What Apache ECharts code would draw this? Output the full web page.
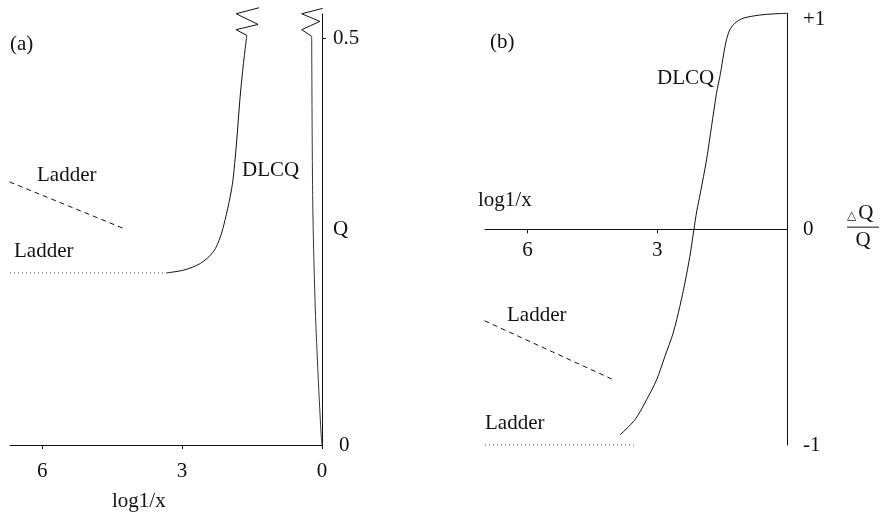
<!DOCTYPE html>
<html>
<head>
<meta charset="utf-8">
<script src="https://cdn.jsdelivr.net/npm/echarts@6/dist/echarts.min.js"></script>
<style>html,body{margin:0;padding:0;background:#fff}#c{width:883px;height:521px}</style>
</head>
<body>
<div id="c"></div>
<script>
// ---------- data (x = log1/x, y = value) ----------
// Panel (a): Q
const aXTicks = [0, 3, 6];
const aYTicks = [0, 0.5];
const aLadderDotted = [[6.69, 0.2117], [3.33, 0.2117]];
const aLadderDashed = [[6.70, 0.3235], [4.20, 0.265]];
const aDlcq = [[3.33, 0.2117], [2.97, 0.215], [2.61, 0.2232], [2.33, 0.2375], [2.18, 0.2559], [2.08, 0.2764], [1.97, 0.305], [1.91, 0.3256], [1.84, 0.3665], [1.756, 0.4279], [1.685, 0.4689], [1.612, 0.5037]];
const aBreak1 = [[1.612, 0.5037], [1.842, 0.5107], [1.37, 0.5172], [1.842, 0.5303], [1.349, 0.5377]];
const aSteep = [[0, 0], [0.021, 0.0147], [0.092, 0.0962], [0.15, 0.178], [0.199, 0.301], [0.221, 0.5025]];
const aBreak2 = [[0.221, 0.5025], [0.435, 0.5107], [0.043, 0.5209], [0.435, 0.5303], [-0.015, 0.5369]];
// Panel (b): ΔQ/Q
const bXTicks = [3, 6];
const bYTicks = [-1, 0, 1];
const bLadderDotted = [[6.98, -1.0], [3.54, -1.0]];
const bLadderDashed = [[6.99, -0.4245], [3.976, -0.701]];
const bDlcq = [[0, 1.0], [0.323, 0.997], [0.63, 0.992], [1.015, 0.977], [1.207, 0.954], [1.322, 0.923], [1.399, 0.877], [1.461, 0.815], [1.537, 0.722], [1.629, 0.63], [1.745, 0.475], [1.86, 0.321], [2.003, 0.167], [2.084, 0.085], [2.153, -0.003], [2.246, -0.127], [2.361, -0.25], [2.477, -0.358], [2.631, -0.481], [2.823, -0.59], [3.014, -0.698], [3.245, -0.79], [3.515, -0.883], [3.861, -0.953]];

const FF = "'Liberation Serif','Times New Roman',serif";
const FS = 21;
const INK = '#111';

const chart = echarts.init(document.getElementById('c'), null, {renderer: 'canvas'});

function line(name, data, xi, style, smooth) {
  return {
    type: 'line', name, data, xAxisIndex: xi, yAxisIndex: xi,
    showSymbol: false, symbol: 'none', clip: false, smooth: smooth || false,
    lineStyle: Object.assign({color: INK, width: 1}, style),
    silent: true, animation: false
  };
}

function txt(text, x, y) {
  return {type: 'text', x, y, silent: true,
    style: {text, fontSize: FS, fontFamily: FF, fill: INK, align: 'left', verticalAlign: 'middle'}};
}

const axisLineStyle = {color: INK, width: 1};

chart.setOption({
  animation: false,
  backgroundColor: '#fff',
  grid: [
    {left: 10, right: 561, top: 14, bottom: 76},
    {left: 485, right: 96, top: 13.3, bottom: 76}
  ],
  xAxis: [
    {
      gridIndex: 0, type: 'value', inverse: true, min: 0, max: 6.69,
      splitLine: {show: false},
      axisLine: {show: true, onZero: false, lineStyle: axisLineStyle},
      axisTick: {show: true, customValues: aXTicks, length: 4, lineStyle: axisLineStyle},
      axisLabel: {show: true, customValues: aXTicks, margin: 16, fontSize: FS, fontFamily: FF, color: INK}
    },
    {
      gridIndex: 1, type: 'value', inverse: true, min: 0, max: 6.98,
      position: 'bottom', offset: -215.7,
      splitLine: {show: false},
      axisLine: {show: true, onZero: false, lineStyle: axisLineStyle},
      axisTick: {show: true, customValues: bXTicks, length: 4, lineStyle: axisLineStyle},
      axisLabel: {show: true, customValues: bXTicks, margin: 11, fontSize: FS, fontFamily: FF, color: INK}
    }
  ],
  yAxis: [
    {
      gridIndex: 0, type: 'value', position: 'right', min: 0, max: 0.53,
      splitLine: {show: false},
      axisLine: {show: true, onZero: false, lineStyle: axisLineStyle},
      axisTick: {show: true, customValues: [0.5], length: 4, lineStyle: axisLineStyle},
      axisLabel: {
        show: true, customValues: aYTicks, margin: 11, fontSize: FS, fontFamily: FF, color: INK,
        formatter: v => v === 0 ? '{z|0}' : String(v),
        rich: {z: {padding: [0, 0, 0, 6], fontSize: FS, fontFamily: FF, color: INK}}
      },
      name: 'Q', nameLocation: 'middle', nameRotate: 0, nameGap: 11, nameMoveOverlap: false,
      nameTextStyle: {fontSize: FS, fontFamily: FF, color: INK}
    },
    {
      gridIndex: 1, type: 'value', position: 'right', min: -1, max: 1,
      splitLine: {show: false},
      axisLine: {show: true, onZero: false, lineStyle: axisLineStyle},
      axisTick: {show: false},
      axisLabel: {
        show: true, customValues: bYTicks, margin: 16, fontSize: FS, fontFamily: FF, color: INK,
        formatter: v => v === 1 ? '{p|+1}' : String(v),
        rich: {p: {padding: [12, 0, 0, 0], fontSize: FS, fontFamily: FF, color: INK}}
      },
      name: '{t|△}{n|Q}\n{b| }\n{d|Q}', nameLocation: 'middle', nameRotate: 0, nameGap: 60, nameMoveOverlap: false,
      nameTextStyle: {
        fontSize: FS, fontFamily: FF, color: INK, align: 'left', padding: [0, 0, 6, 0],
        rich: {
          t: {fontSize: 12, fontFamily: "'DejaVu Sans'", color: INK, lineHeight: 22, padding: [6, 2, 0, 0]},
          n: {fontSize: FS, fontFamily: FF, color: INK, lineHeight: 22},
          b: {width: 32, height: 1, lineHeight: 6, backgroundColor: INK, fontSize: 1},
          d: {fontSize: FS, fontFamily: FF, color: INK, lineHeight: 20, align: 'center', width: 32}
        }
      }
    }
  ],
  series: [
    line('aLadderDotted', aLadderDotted, 0, {type: [1, 3], color: '#444'}),
    line('aLadderDashed', aLadderDashed, 0, {type: [5, 4]}),
    line('aDlcq', aDlcq, 0, {}, 0.3),
    line('aBreak1', aBreak1, 0, {}),
    line('aSteep', aSteep, 0, {color: '#333'}, 0.3),
    line('aBreak2', aBreak2, 0, {}),
    line('bLadderDotted', bLadderDotted, 1, {type: [1, 3], color: '#444'}),
    line('bLadderDashed', bLadderDashed, 1, {type: [5, 4]}),
    line('bDlcq', bDlcq, 1, {}, 0.3)
  ],
  graphic: [
    txt('(a)', 10, 44),
    txt('Ladder', 37, 175),
    txt('Ladder', 14, 251),
    txt('DLCQ', 242, 170),
    txt('log1/x', 112, 501),
    txt('(b)', 490, 42),
    txt('DLCQ', 657, 78),
    txt('log1/x', 478, 200),
    txt('Ladder', 507, 315),
    txt('Ladder', 485, 423)
  ]
});
</script>
</body>
</html>
